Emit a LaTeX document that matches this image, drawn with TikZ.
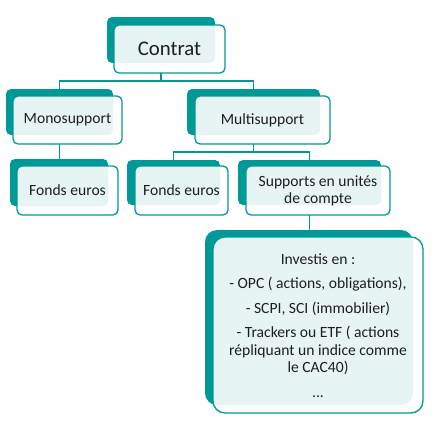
\documentclass[tikz,border=0pt]{standalone}
\usepackage{fontspec}
\setmainfont{Carlito}
\definecolor{teal1}{RGB}{0,153,150}
\definecolor{txt}{RGB}{30,30,30}
\begin{document}
\begin{tikzpicture}[x=1pt,y=-1pt,
  backbox/.style={fill=teal1,rounded corners=5pt},
  frontbox/.style={draw=teal1,line width=1.3pt,fill=white,fill opacity=0.9,text opacity=1,rounded corners=5pt},
  lbl/.style={text=txt,font=\fontsize{15.6}{17.5}\selectfont,align=center,inner sep=0pt},
  conn/.style={draw=teal1,line width=1.3pt}]
\useasboundingbox (0,0) rectangle (434,423);
% Contrat
\path[backbox] (107,17) rectangle (215,63);
\path[frontbox] (114,25) rectangle (225,73);
\node[lbl,font=\fontsize{20.8}{22}\selectfont] (contrat) at (169.5,49) {Contrat};
\coordinate (cB) at (161,73);
% Monosupport
\path[backbox] (6,89) rectangle (113,135);
\path[frontbox] (13,96) rectangle (122,144);
\node[lbl] (mono) at (67.5,120) {Monosupport};
\coordinate (monoT) at (59.5,89);
\coordinate (monoB) at (59.5,144);
% Multisupport
\path[backbox] (187,89) rectangle (320,135);
\path[frontbox] (195,96) rectangle (330,144);
\node[lbl] (multi) at (262.5,120) {Multisupport};
\coordinate (multiT) at (253.5,89);
\coordinate (multiB) at (253.5,144);
% Fonds euros (left)
\path[backbox] (10,159) rectangle (108,206);
\path[frontbox] (17,166) rectangle (118,215);
\node[lbl] (fe1) at (67.5,190.5) {Fonds euros};
\coordinate (fe1T) at (59.5,159);
% Fonds euros (middle)
\path[backbox] (127,160) rectangle (220,205);
\path[frontbox] (135,166) rectangle (228,215);
\node[lbl] (fe2) at (181.5,190.5) {Fonds euros};
\coordinate (fe2T) at (173.5,160);
% Supports
\path[backbox] (238,160) rectangle (381,205);
\path[frontbox] (246,166) rectangle (390,215);
\node[lbl] (uc) at (318,191) {Supports en unités\\de compte};
\coordinate (ucT) at (309.5,160);
\coordinate (ucB) at (309.5,215);
% Investis
\path[backbox,rounded corners=12pt] (205,230) rectangle (413,405);
\path[frontbox,rounded corners=12pt] (213,237) rectangle (423,413);
\node[lbl] (inv) at (318,325.5) {Investis en :\\[7pt]- OPC ( actions, obligations),\\[7pt]- SCPI, SCI (immobilier)\\[7pt]- Trackers ou ETF ( actions\\répliquant un indice comme\\le CAC40)\\[7pt]...};
\coordinate (invT) at (309.5,230);
% connectors
\draw[conn] (cB) -- ++(0,8) -| (monoT);
\draw[conn] (cB) -- ++(0,8) -| (multiT);
\draw[conn] (monoB) -- (fe1T);
\draw[conn] (multiB) -- ++(0,8) -| (fe2T);
\draw[conn] (multiB) -- ++(0,8) -| (ucT);
\draw[conn] (ucB) -- (invT);
\end{tikzpicture}
\end{document}
